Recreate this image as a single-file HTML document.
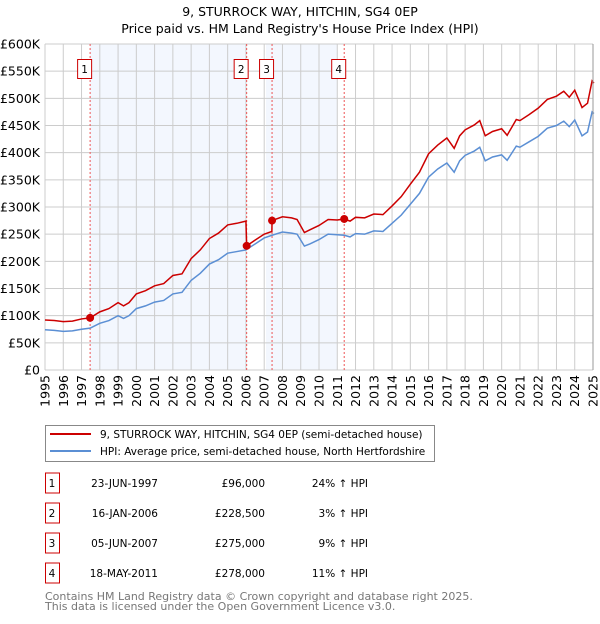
<!DOCTYPE html>
<html><head><meta charset="utf-8"><style>
body{margin:0;background:#fff;font-family:"DejaVu Sans","Liberation Sans",sans-serif;}
svg text{font-family:"DejaVu Sans","Liberation Sans",sans-serif;}
</style></head><body>
<svg id="c" width="600" height="620" xmlns="http://www.w3.org/2000/svg">
<text x="300" y="16" text-anchor="middle" font-size="12.5" fill="#000">9, STURROCK WAY, HITCHIN, SG4 0EP</text>
<text x="300" y="33" text-anchor="middle" font-size="12.5" fill="#000">Price paid vs. HM Land Registry's House Price Index (HPI)</text>
<g id="plot"></g>
<g>
<rect x="45.5" y="425.5" width="389" height="36" fill="#fff" stroke="#888"/>
<line x1="50" y1="434" x2="91" y2="434" stroke="#cc0000" stroke-width="2"/>
<text x="100" y="438" font-size="10.5">9, STURROCK WAY, HITCHIN, SG4 0EP (semi-detached house)</text>
<line x1="50" y1="451" x2="91" y2="451" stroke="#5b8fd4" stroke-width="2"/>
<text x="100" y="455" font-size="10.5">HPI: Average price, semi-detached house, North Hertfordshire</text>
</g>
<g id="table" font-size="10.5"></g>
<text x="45" y="600" font-size="11" fill="#777">Contains HM Land Registry data © Crown copyright and database right 2025.</text>
<text x="45" y="610" font-size="11" fill="#777">This data is licensed under the Open Government Licence v3.0.</text>
</svg>
<script>
const times=[1995.0,1995.5,1996.0,1996.5,1997.0,1997.47,1998.0,1998.5,1999.0,1999.3,1999.6,2000.0,2000.5,2001.0,2001.5,2002.0,2002.5,2003.0,2003.5,2004.0,2004.5,2005.0,2005.5,2006.0,2006.04,2006.5,2007.0,2007.42,2007.43,2008.0,2008.5,2008.8,2009.2,2009.5,2010.0,2010.5,2011.0,2011.38,2011.7,2012.0,2012.5,2013.0,2013.5,2014.0,2014.5,2015.0,2015.5,2016.0,2016.5,2017.0,2017.4,2017.7,2018.0,2018.5,2018.8,2019.1,2019.5,2020.0,2020.3,2020.8,2021.0,2021.5,2022.0,2022.5,2023.0,2023.4,2023.7,2024.0,2024.4,2024.7,2024.95,2025.05];
const hpiValues=[74,73,71,72,75,77,86,91,100,95,100,113,118,125,128,140,143,165,178,195,203,215,218,221,222,232,243,248,248,254,252,250,228,232,240,250,249,248,245,251,250,256,255,270,285,305,325,355,370,381,364,385,395,403,410,385,392,396,386,412,410,420,430,445,450,458,448,460,431,438,475,472];
const priceValues=[92,91,89,90,94,96,107,113,124,118,124,140,146,155,159,174,177,205,221,242,252,267,270,274,228.5,239,250,255,275,282,280,277,253,258,266,277,276,278,274,281,280,287,286,302,319,342,364,398,414,427,408,431,442,451,459,431,439,444,432,461,459,470,482,498,504,513,502,515,483,491,532,528];
const saleTimes=[1997.47,2006.04,2007.43,2011.38];
const salePrices=[96,228.5,275,278];
const saleLabels=["1","2","3","4"];
const saleDates=["23-JUN-1997","16-JAN-2006","05-JUN-2007","18-MAY-2011"];
const salePriceText=["£96,000","£228,500","£275,000","£278,000"];
const saleHpiText=["24% ↑ HPI","3% ↑ HPI","9% ↑ HPI","11% ↑ HPI"];
const bandStarts=[1997.47,2007.1];
const bandEnds=[2006.04,2011.0];
const yTicks=[0,50,100,150,200,250,300,350,400,450,500,550,600];
const yTickLabels=["£0","£50K","£100K","£150K","£200K","£250K","£300K","£350K","£400K","£450K","£500K","£550K","£600K"];
const xYears=[1995,1996,1997,1998,1999,2000,2001,2002,2003,2004,2005,2006,2007,2008,2009,2010,2011,2012,2013,2014,2015,2016,2017,2018,2019,2020,2021,2022,2023,2024,2025];

const NS="http://www.w3.org/2000/svg";
const X0=45,X1=593,Y0=370,Y1=44;
const xs=t=>X0+(t-1995)/30*(X1-X0);
const ys=v=>Y0-v/600*(Y0-Y1);
const plot=document.getElementById('plot');
function mk(tag,attrs,parent){const e=document.createElementNS(NS,tag);for(const k in attrs)e.setAttribute(k,attrs[k]);(parent||plot).appendChild(e);return e;}

bandStarts.forEach((a,i)=>{
  const r=mk('rect',{x:xs(a),y:Y1,width:xs(bandEnds[i])-xs(a),height:Y0-Y1,fill:'#f3f7fe'});
  
  
});
yTicks.forEach((v,i)=>{
  const l=mk('line',{x1:X0,x2:X1,y1:ys(v),y2:ys(v),stroke:'#cccccc','stroke-width':1});
  
  
  const t=mk('text',{x:40,y:ys(v)+4.5,'text-anchor':'end','font-size':12.5,fill:'#000'});
  t.textContent=yTickLabels[i];
  
  
});
xYears.forEach(y=>{
  const l=mk('line',{x1:xs(y),x2:xs(y),y1:Y1,y2:Y0,stroke:'#cccccc','stroke-width':1});
  
  
  const t=mk('text',{x:0,y:0,'text-anchor':'end','font-size':12.5,fill:'#000',transform:`translate(${xs(y)+4.5},375) rotate(-90)`});
  t.textContent=y;
  
  
});
saleTimes.forEach((s,i)=>{
  const l=mk('line',{x1:xs(s),x2:xs(s),y1:Y1,y2:Y0,stroke:'#ee5555','stroke-width':1,'stroke-dasharray':'2,2'});
  
  
  const r=mk('rect',{x:xs(s)-12.5,y:59.5,width:14,height:19,fill:'#fff',stroke:'#cc0000'});
  
  
  const t=mk('text',{x:xs(s)-5.5,y:73,'text-anchor':'middle','font-size':10.5});
  t.textContent=saleLabels[i];
  
  
});
const hp=mk('polyline',{points:times.map((t,i)=>xs(t)+','+ys(hpiValues[i])).join(' '),fill:'none',stroke:'#5b8fd4','stroke-width':1.5});


const pp=mk('polyline',{points:times.map((t,i)=>xs(t)+','+ys(priceValues[i])).join(' '),fill:'none',stroke:'#cc0000','stroke-width':1.5});


saleTimes.forEach((s,i)=>{
  const c=mk('circle',{cx:xs(s),cy:ys(salePrices[i]),r:4,fill:'#cc0000'});
  
  
});
const b=mk('line',{x1:X1,x2:X1,y1:Y1,y2:Y0,stroke:'#999','stroke-width':1});



const tb=document.getElementById('table');
saleDates.forEach((d,i)=>{
  const cy=483+i*30;
  const r=mk('rect',{x:45.5,y:cy-10,width:14,height:20,fill:'#fff',stroke:'#cc0000'},tb);
  
  
  const cells=[[52,'middle',saleLabels[i],'table-row-number'],[158,'end',d,'table-row-date'],[265,'end',salePriceText[i],'table-row-price'],[368,'end',saleHpiText[i],'table-row-hpi-change']];
  cells.forEach(([x,a,txt,n])=>{
    const t=mk('text',{x:x,y:cy+4,'text-anchor':a,'font-size':10.5},tb);
    t.textContent=txt;
    
    
  });
});
</script>
</body></html>
